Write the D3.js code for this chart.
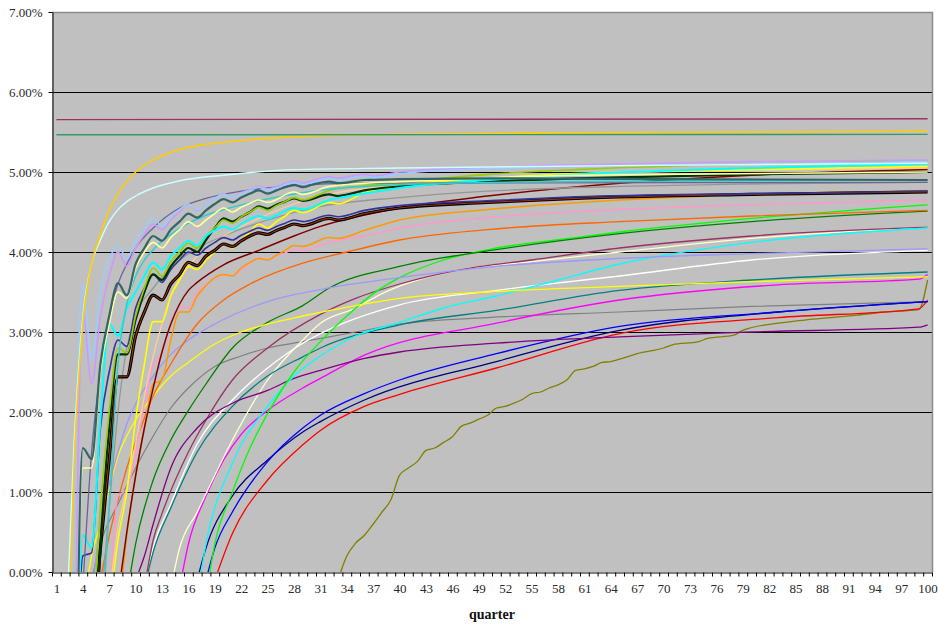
<!DOCTYPE html>
<html>
<head>
<meta charset="utf-8">
<script src="https://cdn.jsdelivr.net/npm/d3@7"></script>
<style>
  body { margin: 0; background: #fff; }
  svg text { font-family: 'Liberation Serif', 'DejaVu Serif', serif; }
</style>
</head>
<body>
<div id="chart"></div>
<script>
// Axis values
const yTicks = [0, 1, 2, 3, 4, 5, 6, 7];
const xLabels = d3.range(1, 101, 3);
const quarterCount = 100;

// Series values, [quarter, percent]
const flatPlum = [[1, 5.655], [100, 5.665]];
const flatSea = [[1, 5.465], [100, 5.47]];
const gold = [[2, -2.5], [3, 1.3], [4, 3.1], [5, 3.85], [6, 4.22], [7, 4.52], [8, 4.73], [10, 5.0], [12, 5.15], [15, 5.28], [19, 5.36], [25, 5.42], [30, 5.45], [40, 5.47], [60, 5.49], [100, 5.51]];
const paleAqua = [[2, -1], [3, 1.6], [4, 3.2], [5, 3.85], [6, 4.15], [7, 4.38], [8, 4.53], [9, 4.63], [10, 4.7], [12, 4.8], [15, 4.89], [20, 4.96], [28, 5.03], [40, 5.05], [65, 5.08], [100, 5.11]];
const lightBlue = [[2, -3], [3, 1.0], [4, 3.6], [5, 2.65], [6, 3.5], [7, 3.9], [8, 4.09], [9, 3.91], [10, 4.15], [11, 4.3], [12, 4.42], [13, 4.33], [14, 4.45], [15, 4.53], [16, 4.6], [17, 4.53], [18, 4.6], [19, 4.67], [20, 4.72], [21, 4.68], [22, 4.73], [23, 4.77], [24, 4.81], [25, 4.77], [26, 4.8], [27, 4.84], [28, 4.87], [29, 4.84], [30, 4.87], [32, 4.92], [33, 4.9], [36, 4.95], [37, 4.93], [40, 4.98], [50, 5.04], [60, 5.07], [80, 5.1], [100, 5.13]];
const lavender = [[3, -2], [4, 3.25], [5, 2.35], [6, 3.2], [7, 3.7], [8, 4.0], [9, 3.82], [10, 4.05], [11, 4.22], [12, 4.35], [13, 4.28], [14, 4.4], [15, 4.5], [16, 4.6], [17, 4.52], [18, 4.6], [19, 4.67], [20, 4.73], [21, 4.68], [22, 4.74], [23, 4.78], [24, 4.82], [25, 4.79], [26, 4.82], [27, 4.86], [28, 4.89], [29, 4.86], [30, 4.89], [32, 4.94], [33, 4.92], [36, 4.97], [37, 4.95], [40, 5.0], [50, 5.06], [60, 5.09], [80, 5.13], [100, 5.15]];
const darkTeal = [[3, -4], [4, 1.55], [5, 1.41], [6, 2.6], [7, 3.2], [8, 3.61], [9, 3.46], [10, 3.85], [11, 4.05], [12, 4.2], [13, 4.14], [14, 4.28], [15, 4.38], [16, 4.48], [17, 4.43], [18, 4.52], [19, 4.6], [20, 4.66], [21, 4.62], [22, 4.68], [23, 4.73], [24, 4.77], [25, 4.73], [26, 4.77], [27, 4.81], [28, 4.84], [29, 4.81], [30, 4.84], [32, 4.88], [33, 4.86], [36, 4.9], [40, 4.91], [50, 4.92], [70, 4.91], [100, 4.9]];
const lightYellow = [[3, -4], [4, 1.3], [5, 1.3], [6, 2.5], [7, 3.1], [8, 3.5], [9, 3.42], [10, 3.8], [11, 4.0], [12, 4.12], [13, 4.05], [14, 4.18], [15, 4.28], [16, 4.38], [17, 4.32], [18, 4.4], [19, 4.48], [20, 4.55], [21, 4.5], [22, 4.56], [23, 4.61], [24, 4.65], [25, 4.62], [28, 4.75], [29, 4.72], [32, 4.82], [36, 4.86], [40, 4.88], [60, 4.96], [100, 5.0]];
const turquoise = [[6, -1], [7, 0.8], [8, 2.6], [9, 3.35], [10, 3.7], [11, 3.9], [12, 4.03], [14, 4.22], [16, 4.36], [18, 4.46], [20, 4.53], [24, 4.64], [30, 4.76], [40, 4.84], [60, 4.88], [100, 4.9]];
const slate = [[4, -0.2], [5, 1.5], [6, 2.5], [7, 3.2], [8, 3.6], [9, 3.85], [10, 4.05], [12, 4.3], [15, 4.55], [18, 4.67], [22, 4.76], [28, 4.83], [35, 4.86], [100, 4.87]];
const cyanStep = [[3, -3], [4, 0.46], [5, 0.3], [6, 1.9], [7, 3.1], [8, 2.95], [9, 3.3], [10, 3.5], [11, 3.7], [12, 3.87], [13, 3.78], [14, 3.95], [15, 4.05], [16, 4.14], [17, 4.08], [18, 4.2], [19, 4.27], [20, 4.32], [21, 4.28], [22, 4.35], [23, 4.41], [24, 4.45], [25, 4.42], [28, 4.55], [29, 4.53], [32, 4.65], [36, 4.73], [40, 4.8], [50, 4.9], [60, 4.97], [80, 5.05], [100, 5.1]];
const greenYellow = [[5, -1], [6, 0.8], [7, 2.0], [8, 2.8], [9, 2.74], [10, 3.2], [11, 3.55], [12, 3.8], [13, 3.7], [14, 3.88], [15, 4.0], [16, 4.11], [17, 4.05], [18, 4.2], [19, 4.3], [20, 4.4], [21, 4.36], [22, 4.44], [23, 4.5], [24, 4.56], [25, 4.52], [26, 4.58], [27, 4.63], [28, 4.68], [29, 4.65], [32, 4.77], [36, 4.83], [40, 4.87], [50, 4.97], [60, 5.03], [80, 5.1], [100, 5.14]];
const darkGreen = [[5, -2], [6, 0.3], [7, 1.8], [8, 2.72], [9, 2.72], [10, 3.15], [11, 3.5], [12, 3.72], [13, 3.65], [14, 3.82], [15, 3.95], [16, 4.05], [17, 4.0], [18, 4.15], [19, 4.3], [20, 4.42], [21, 4.38], [22, 4.44], [23, 4.5], [24, 4.57], [25, 4.54], [26, 4.59], [27, 4.63], [28, 4.67], [29, 4.64], [32, 4.72], [33, 4.7], [36, 4.77], [40, 4.82], [50, 4.88], [60, 4.92], [80, 4.97], [100, 5.0]];
const peach = [[7, -0.3], [8, 0.55], [9, 1.05], [10, 1.6], [11, 2.2], [12, 2.7], [13, 3.1], [14, 3.45], [16, 3.82], [18, 4.05], [20, 4.2], [24, 4.42], [28, 4.6], [32, 4.72], [40, 4.84], [60, 4.97], [100, 5.05]];
const yellowStep = [[7, -0.5], [8, 0.4], [9, 1.0], [10, 1.9], [11, 2.6], [12, 3.13], [13, 3.13], [14, 3.45], [15, 3.65], [16, 3.82], [17, 3.78], [18, 3.9], [19, 4.0], [20, 4.1], [21, 4.05], [22, 4.15], [23, 4.25], [24, 4.35], [25, 4.3], [26, 4.38], [27, 4.45], [28, 4.52], [29, 4.49], [32, 4.62], [33, 4.6], [36, 4.74], [40, 4.83], [50, 4.92], [60, 4.98], [80, 5.03], [100, 5.07]];
const navyStep = [[3, -3], [4, 0.2], [5, 0.24], [6, 1.8], [7, 2.5], [8, 2.9], [9, 2.82], [10, 3.3], [11, 3.55], [12, 3.72], [13, 3.62], [14, 3.78], [15, 3.9], [16, 4.0], [17, 3.96], [18, 4.05], [19, 4.12], [20, 4.18], [21, 4.15], [22, 4.21], [23, 4.26], [24, 4.3], [25, 4.27], [26, 4.32], [27, 4.36], [28, 4.4], [29, 4.38], [32, 4.46], [33, 4.44], [36, 4.52], [40, 4.58], [50, 4.64], [60, 4.69], [80, 4.73], [100, 4.76]];
const blackStep = [[5, -1], [6, 0.3], [7, 1.4], [8, 2.44], [9, 2.44], [10, 2.95], [11, 3.25], [12, 3.46], [13, 3.4], [14, 3.6], [15, 3.72], [16, 3.87], [17, 3.83], [18, 3.95], [19, 4.02], [20, 4.1], [21, 4.07], [22, 4.14], [23, 4.2], [24, 4.24], [25, 4.22], [26, 4.27], [27, 4.31], [28, 4.35], [29, 4.33], [32, 4.42], [33, 4.4], [36, 4.48], [40, 4.55], [50, 4.62], [60, 4.67], [80, 4.72], [100, 4.75]];
const grayUpper = [[6, -0.5], [7, 0.8], [8, 2.0], [9, 2.8], [10, 3.2], [12, 3.55], [14, 3.8], [16, 3.98], [20, 4.2], [25, 4.4], [31, 4.57], [40, 4.68], [50, 4.76], [65, 4.82], [80, 4.85], [100, 4.87]];
const darkRed = [[8, -0.3], [9, 0.5], [10, 1.2], [11, 1.8], [12, 2.3], [13, 2.75], [14, 3.1], [15, 3.35], [16, 3.52], [17, 3.62], [20, 3.84], [24, 4.02], [28, 4.2], [31, 4.32], [40, 4.55], [50, 4.7], [65, 4.86], [80, 4.96], [100, 5.03]];
const orangeStep = [[8, -0.6], [9, 0.45], [10, 1.2], [11, 1.8], [12, 2.35], [13, 2.4], [14, 2.9], [15, 3.25], [16, 3.25], [17, 3.45], [18, 3.58], [19, 3.68], [20, 3.72], [21, 3.7], [22, 3.8], [23, 3.87], [24, 3.92], [25, 3.9], [26, 3.96], [27, 4.02], [28, 4.08], [29, 4.07], [32, 4.18], [33, 4.17], [36, 4.27], [40, 4.4], [50, 4.53], [65, 4.65], [80, 4.72], [100, 4.77]];
const pinkStep = [[7, -0.6], [8, 0.95], [9, 1.03], [10, 1.5], [11, 2.1], [12, 2.6], [13, 2.73], [14, 3.1], [15, 3.32], [16, 3.3], [17, 3.5], [18, 3.6], [19, 3.67], [20, 3.72], [21, 3.7], [22, 3.78], [23, 3.86], [24, 3.93], [25, 3.9], [26, 3.95], [27, 3.99], [28, 4.03], [29, 4.02], [32, 4.12], [36, 4.2], [40, 4.3], [50, 4.43], [65, 4.53], [80, 4.59], [100, 4.65]];
const orangeRed = [[6, -0.1], [7, 0.45], [8, 0.9], [9, 1.3], [10, 1.62], [12, 2.2], [14, 2.6], [17, 3.1], [20, 3.4], [23, 3.6], [29, 3.86], [34, 4.0], [40, 4.15], [50, 4.28], [65, 4.38], [80, 4.45], [100, 4.52]];
const periwinkle = [[5, -0.3], [6, 0.6], [7, 1.1], [8, 1.5], [9, 1.85], [10, 2.1], [12, 2.45], [14, 2.72], [16, 2.9], [19, 3.1], [25, 3.38], [31, 3.53], [40, 3.68], [51, 3.82], [65, 3.92], [80, 3.98], [100, 4.04]];
const yellowLow = [[4, -0.5], [5, 0.2], [6, 0.6], [7, 1.05], [8, 1.45], [9, 1.7], [10, 1.9], [12, 2.2], [14, 2.45], [16, 2.62], [19, 2.85], [22, 3.0], [25, 3.1], [29, 3.2], [35, 3.33], [40, 3.42], [50, 3.5], [65, 3.57], [80, 3.63], [100, 3.69]];
const green = [[9, -0.3], [10, 0.35], [12, 1.15], [14, 1.65], [16, 2.02], [18, 2.35], [21, 2.8], [25, 3.12], [29, 3.33], [32, 3.55], [40, 3.82], [51, 4.03], [65, 4.23], [80, 4.38], [100, 4.51]];
const lime = [[18, -0.3], [19, 0.35], [21, 1.0], [23, 1.55], [25, 1.98], [28, 2.5], [31, 2.88], [34, 3.2], [37, 3.48], [40, 3.68], [45, 3.9], [51, 4.05], [60, 4.18], [65, 4.25], [80, 4.42], [100, 4.59]];
const cyanLow = [[17, -0.3], [18, 0.35], [21, 1.36], [25, 2.07], [28, 2.45], [31, 2.7], [35, 2.95], [40, 3.12], [45, 3.3], [51, 3.45], [58, 3.65], [65, 3.85], [80, 4.12], [100, 4.3]];
const purple = [[10, -0.1], [11, 0.2], [12, 0.6], [14, 1.3], [17, 1.8], [21, 2.11], [25, 2.27], [28, 2.42], [31, 2.52], [36, 2.67], [40, 2.75], [51, 2.86], [65, 2.94], [80, 3.0], [99, 3.06], [100, 3.09]];
const plum = [[11, -0.2], [12, 0.4], [13, 0.73], [16, 1.5], [18, 1.9], [21, 2.4], [25, 2.8], [31, 3.22], [35, 3.42], [40, 3.6], [47, 3.78], [55, 3.9], [65, 4.05], [80, 4.2], [100, 4.31]];
const teal = [[11, -0.2], [12, 0.25], [14, 0.8], [17, 1.5], [21, 2.07], [25, 2.45], [29, 2.69], [31, 2.8], [40, 3.09], [51, 3.27], [65, 3.52], [80, 3.65], [100, 3.75]];
const white = [[11, -0.2], [12, 0.3], [14, 0.85], [17, 1.6], [21, 2.15], [25, 2.55], [29, 2.86], [31, 2.98], [40, 3.34], [51, 3.52], [65, 3.7], [80, 3.9], [100, 4.02]];
const cream = [[14, -0.2], [15, 0.3], [17, 0.75], [21, 1.65], [25, 2.4], [29, 2.9], [31, 3.11], [35, 3.3], [38, 3.48], [47, 3.78], [55, 3.88], [65, 4.0], [80, 4.17], [100, 4.31]];
const magenta = [[15, -0.2], [16, 0.35], [18, 0.95], [20, 1.4], [22, 1.72], [25, 2.02], [29, 2.3], [31, 2.42], [36, 2.71], [51, 3.11], [65, 3.4], [83, 3.59], [99, 3.66], [100, 3.72]];
const blue = [[18, -0.1], [19, 0.3], [21, 0.75], [25, 1.38], [29, 1.8], [31, 1.96], [36, 2.23], [40, 2.4], [51, 2.73], [65, 3.07], [83, 3.25], [100, 3.38]];
const navySmooth = [[17, -0.1], [18, 0.3], [21, 0.95], [25, 1.4], [29, 1.75], [31, 1.88], [36, 2.15], [51, 2.63], [65, 3.02], [83, 3.25], [100, 3.38]];
const red = [[19, -0.1], [21, 0.48], [25, 1.15], [29, 1.59], [31, 1.77], [36, 2.07], [40, 2.22], [51, 2.55], [65, 2.98], [83, 3.18], [99, 3.29], [100, 3.4]];
const olive = [[33, -0.1], [34, 0.2], [35, 0.36], [36, 0.46], [37, 0.6], [38, 0.75], [39, 0.9], [40, 1.21], [41, 1.3], [42, 1.38], [43, 1.52], [44, 1.55], [45, 1.62], [46, 1.69], [47, 1.82], [48, 1.86], [49, 1.91], [50, 1.96], [51, 2.05], [52, 2.07], [53, 2.11], [54, 2.16], [55, 2.23], [56, 2.25], [57, 2.3], [58, 2.34], [59, 2.4], [60, 2.52], [61, 2.54], [62, 2.57], [63, 2.62], [64, 2.63], [65, 2.66], [67, 2.73], [70, 2.8], [71, 2.84], [74, 2.88], [75, 2.92], [78, 2.96], [79, 3.02], [83, 3.11], [87, 3.16], [92, 3.21], [95, 3.25], [99, 3.28], [100, 3.65]];
const grayLow = [[5, -0.1], [6, 0.35], [8, 0.85], [10, 1.3], [12, 1.7], [14, 2.05], [16, 2.3], [19, 2.57], [22, 2.7], [25, 2.8], [29, 2.88], [35, 3.0], [40, 3.1], [50, 3.18], [65, 3.25], [80, 3.32], [100, 3.38]];

// Drawing table built from the arrays above (draw order, colour, stroke width)
const lineStyles = [
  [grayLow, "#808080", 1.2], [olive, "#808000", 1.3], [red, "#FF0000", 1.3],
  [navySmooth, "#000080", 1.3], [blue, "#0000FF", 1.3], [magenta, "#FF00FF", 1.3],
  [cream, "#FFFFCC", 1.3], [white, "#FFFFFF", 1.3], [teal, "#008080", 1.3],
  [plum, "#993366", 1.3], [purple, "#800080", 1.3], [cyanLow, "#00FFFF", 1.3],
  [lime, "#00FF00", 1.3], [green, "#008000", 1.3], [yellowLow, "#FFFF00", 1.3],
  [periwinkle, "#9999FF", 1.3], [orangeRed, "#FF6600", 1.3], [pinkStep, "#FF99CC", 1.5],
  [orangeStep, "#FF9900", 1.5], [darkRed, "#800000", 1.5], [grayUpper, "#969696", 1.3],
  [peach, "#FFCC99", 1.3], [yellowStep, "#FFFF00", 1.6], [blackStep, "#000000", 3.2],
  [blackStep, "#993300", 1.1], [navyStep, "#333399", 1.6], [darkGreen, "#003300", 2.2],
  [greenYellow, "#99CC00", 1.6], [cyanStep, "#00FFFF", 2], [slate, "#666699", 1.3],
  [turquoise, "#33CCCC", 1.5], [lightYellow, "#FFFF99", 1.6], [darkTeal, "#336666", 2.2],
  [lavender, "#CC99FF", 1.6], [lightBlue, "#99CCFF", 1.6], [paleAqua, "#CCFFFF", 1.4],
  [gold, "#FFCC00", 1.6], [flatSea, "#339966", 1.4], [flatPlum, "#993366", 1.4]
];

const width = 938, height = 626;
const plot = { left: 52, right: 932, top: 12, bottom: 572 };
const serif = "'Liberation Serif', 'DejaVu Serif', serif";

const svg = d3.select("#chart").append("svg")
  .attr("width", width).attr("height", height);

const x = d3.scaleLinear().domain([0.5, quarterCount + 0.5]).range([plot.left, plot.right]);
const y = d3.scaleLinear().domain([0, 7]).range([plot.bottom, plot.top]);

// plot background
svg.append("rect")
  .attr("x", plot.left).attr("y", plot.top)
  .attr("width", plot.right - plot.left).attr("height", plot.bottom - plot.top)
  .attr("fill", "#C0C0C0");

// gridlines
svg.append("g")
  .selectAll("line")
  .data(yTicks.filter(d => d > 0 && d < 7))
  .enter().append("line")
  .attr("x1", plot.left).attr("x2", plot.right)
  .attr("y1", d => Math.round(y(d)) + 0.5).attr("y2", d => Math.round(y(d)) + 0.5)
  .attr("stroke", "#000").attr("stroke-width", 1);

// border top / right
svg.append("path")
  .attr("d", `M${plot.left},${plot.top + 0.5}H${plot.right + 0.5}V${plot.bottom}`)
  .attr("fill", "none").attr("stroke", "#8c8c8c").attr("stroke-width", 1.5);

svg.append("clipPath").attr("id", "plotClip")
  .append("rect")
  .attr("x", plot.left).attr("y", plot.top)
  .attr("width", plot.right - plot.left).attr("height", plot.bottom - plot.top);

const line = d3.line()
  .x(d => x(d[0]))
  .y(d => y(d[1]))
  .curve(d3.curveMonotoneX);

svg.append("g")
  .attr("clip-path", "url(#plotClip)")
  .selectAll("path")
  .data(lineStyles)
  .enter().append("path")
  .attr("d", d => line(d[0]))
  .attr("fill", "none")
  .attr("stroke", d => d[1])
  .attr("stroke-width", d => d[2])
  .attr("stroke-linejoin", "round");

// y axis
svg.append("g")
  .attr("transform", `translate(${plot.left + 0.5},0)`)
  .call(d3.axisLeft(y).tickValues(yTicks).tickFormat(d => d.toFixed(2) + "%")
    .tickSize(4).tickSizeOuter(0).tickPadding(6));

// x axis: tick marks between categories, labels every third quarter
svg.append("g")
  .attr("transform", `translate(0,${plot.bottom + 0.5})`)
  .call(d3.axisBottom(x).tickValues(d3.range(0.5, quarterCount + 1, 1))
    .tickFormat("").tickSize(4).tickSizeOuter(0));

const xLabelAxis = svg.append("g")
  .attr("transform", `translate(0,${plot.bottom})`)
  .call(d3.axisBottom(x).tickValues(xLabels).tickFormat(d3.format("d"))
    .tickSize(0).tickPadding(12));
xLabelAxis.select(".domain").remove();

svg.selectAll("g").attr("font-family", null);
svg.selectAll(".tick text")
  .style("font-family", serif)
  .style("font-size", "13px")
  .attr("fill", "#2a2a2a");
svg.selectAll(".domain, .tick line").attr("stroke", "#000");

svg.append("text")
  .attr("x", 492).attr("y", 619)
  .attr("text-anchor", "middle")
  .style("font-family", serif)
  .style("font-size", "14px")
  .style("font-weight", "bold")
  .attr("fill", "#111")
  .text("quarter");
</script>
</body>
</html>
